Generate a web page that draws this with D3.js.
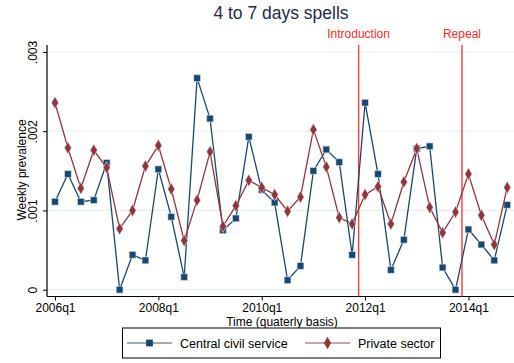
<!DOCTYPE html>
<html>
<head>
<meta charset="utf-8">
<script src="https://cdn.jsdelivr.net/npm/d3@7"></script>
<style>
  html, body { margin: 0; padding: 0; background: #fff; }
  svg { display: block; font-family: "Liberation Sans", Arial, sans-serif; }
</style>
</head>
<body>
<svg id="chart" width="514" height="363"></svg>
<script>
// Quarterly periods 2006q1 .. 2014q4
const quarters = d3.range(36).map(i => `${2006 + Math.floor(i / 4)}q${(i % 4) + 1}`);

// Weekly prevalence of 4 to 7 day sickness spells
const civilService = [
  0.00111, 0.00146, 0.00111, 0.00113, 0.00160, 0.00000, 0.00044, 0.00037,
  0.00152, 0.00092, 0.00016, 0.00267, 0.00216, 0.00075, 0.00090, 0.00193,
  0.00126, 0.00110, 0.00012, 0.00030, 0.00150, 0.00177, 0.00161, 0.00044,
  0.00236, 0.00146, 0.00025, 0.00063, 0.00178, 0.00181, 0.00028, 0.00000,
  0.00076, 0.00057, 0.00037, 0.00107
];
const privateSector = [
  0.00236, 0.00179, 0.00128, 0.00176, 0.00154, 0.00077, 0.00100, 0.00156,
  0.00182, 0.00127, 0.00062, 0.00113, 0.00174, 0.00080, 0.00106, 0.00138,
  0.00129, 0.00120, 0.00099, 0.00117, 0.00202, 0.00155, 0.00091, 0.00083,
  0.00120, 0.00130, 0.00083, 0.00136, 0.00178, 0.00104, 0.00072, 0.00098,
  0.00146, 0.00094, 0.00057, 0.00129
];

const yTicks = [0, 0.001, 0.002, 0.003];
const yTickLabels = ["0", ".001", ".002", ".003"];
const xTickIndex = [0, 8, 16, 24, 32];

// Policy events, positioned on the quarter index axis
const events = [
  { label: "Introduction", at: 23.5 },
  { label: "Repeal", at: 31.5 }
];

const series = [
  { name: "Central civil service", values: civilService, color: "#1a476f", marker: "square" },
  { name: "Private sector", values: privateSector, color: "#90353b", marker: "diamond" }
];

const svg = d3.select("#chart");
const plot = { left: 47, right: 514, top: 45, bottom: 296.5 };

const x = d3.scaleLinear().domain([0, 35]).range([55, 507.2]);
const y = d3.scaleLinear().domain([0, 0.003]).range([289.7, 52]);

// Gridlines
svg.append("g")
  .selectAll("line")
  .data(yTicks)
  .join("line")
  .attr("x1", plot.left).attr("x2", plot.right)
  .attr("y1", d => y(d)).attr("y2", d => y(d))
  .attr("stroke", "#e8f0f1").attr("stroke-width", 1.2);

// Y axis
const yAxis = svg.append("g")
  .attr("transform", `translate(${plot.left},0)`)
  .call(d3.axisLeft(y).tickValues(yTicks).tickSize(4).tickFormat((d, i) => yTickLabels[i]));
yAxis.select(".domain").attr("d", `M0,${plot.top}V${plot.bottom}`).attr("stroke", "#000").attr("stroke-width", 1.2);
yAxis.selectAll(".tick line").attr("stroke", "#000");
yAxis.selectAll(".tick text")
  .attr("x", 0).attr("y", 0).attr("dy", 0)
  .attr("transform", "translate(-10.5,0) rotate(-90)")
  .attr("text-anchor", "middle")
  .style("font-size", "12px").attr("fill", "#000");

// X axis
const xAxis = svg.append("g")
  .attr("transform", `translate(0,${plot.bottom})`)
  .call(d3.axisBottom(x).tickValues(xTickIndex).tickSize(4).tickFormat(i => quarters[i]));
xAxis.select(".domain").attr("d", `M${plot.left},0H${plot.right}`).attr("stroke", "#000").attr("stroke-width", 1.2);
xAxis.selectAll(".tick line").attr("stroke", "#000");
xAxis.selectAll(".tick text").attr("dy", 0).attr("y", 15.5).style("font-size", "12px").attr("fill", "#000");

// Axis titles
svg.append("text")
  .attr("x", 282).attr("y", 325.5)
  .attr("text-anchor", "middle")
  .style("font-size", "12px")
  .text("Time (quaterly basis)");
svg.append("text")
  .attr("transform", `translate(25.5,170) rotate(-90)`)
  .attr("text-anchor", "middle")
  .style("font-size", "12px")
  .text("Weekly prevalence");

// Chart title
svg.append("text")
  .attr("x", 281).attr("y", 18.5)
  .attr("text-anchor", "middle")
  .style("font-size", "17.5px")
  .attr("fill", "#1c2a4a")
  .text("4 to 7 days spells");

// Event lines
const ev = svg.append("g");
ev.selectAll("line")
  .data(events)
  .join("line")
  .attr("x1", d => x(d.at)).attr("x2", d => x(d.at))
  .attr("y1", plot.top).attr("y2", plot.bottom)
  .attr("stroke", "#ff3b3b").attr("stroke-width", 1.4);
ev.selectAll("text")
  .data(events)
  .join("text")
  .attr("x", d => x(d.at)).attr("y", 38)
  .attr("text-anchor", "middle")
  .style("font-size", "12px")
  .attr("fill", "#ff2a2a")
  .text(d => d.label);

// Series lines and markers
const line = d3.line().x((d, i) => x(i)).y(d => y(d));
const squareSym = d3.symbol().type(d3.symbolSquare).size(46);
const diamondSym = d3.symbol().type(d3.symbolDiamond).size(44);

series.forEach(s => {
  const g = svg.append("g");
  g.append("path")
    .datum(s.values)
    .attr("d", line)
    .attr("fill", "none")
    .attr("stroke", s.color)
    .attr("stroke-width", 1.3);
  g.selectAll("path.mk")
    .data(s.values)
    .join("path")
    .attr("class", "mk")
    .attr("transform", (d, i) => `translate(${x(i)},${y(d)})`)
    .attr("d", s.marker === "square" ? squareSym : diamondSym)
    .attr("fill", s.color)
    .attr("stroke", "#dfe7ee")
    .attr("stroke-width", 0.6);
});

// Legend
const legend = svg.append("g");
legend.append("rect")
  .attr("x", 122.5).attr("y", 328).attr("width", 318).attr("height", 30)
  .attr("fill", "#fff").attr("stroke", "#000").attr("stroke-width", 1);
const legendItems = [
  { s: series[0], x0: 127, tx: 180 },
  { s: series[1], x0: 305, tx: 358 }
];
legendItems.forEach(it => {
  legend.append("line")
    .attr("x1", it.x0).attr("x2", it.x0 + 45)
    .attr("y1", 343).attr("y2", 343)
    .attr("stroke", it.s.color).attr("stroke-opacity", 0.6).attr("stroke-width", 1.3);
  legend.append("path")
    .attr("transform", `translate(${it.x0 + 22.5},343)`)
    .attr("d", it.s.marker === "square" ? squareSym : diamondSym)
    .attr("fill", it.s.color);
  legend.append("text")
    .attr("x", it.tx).attr("y", 347.5)
    .style("font-size", "12.5px")
    .text(it.s.name);
});
</script>
</body>
</html>
